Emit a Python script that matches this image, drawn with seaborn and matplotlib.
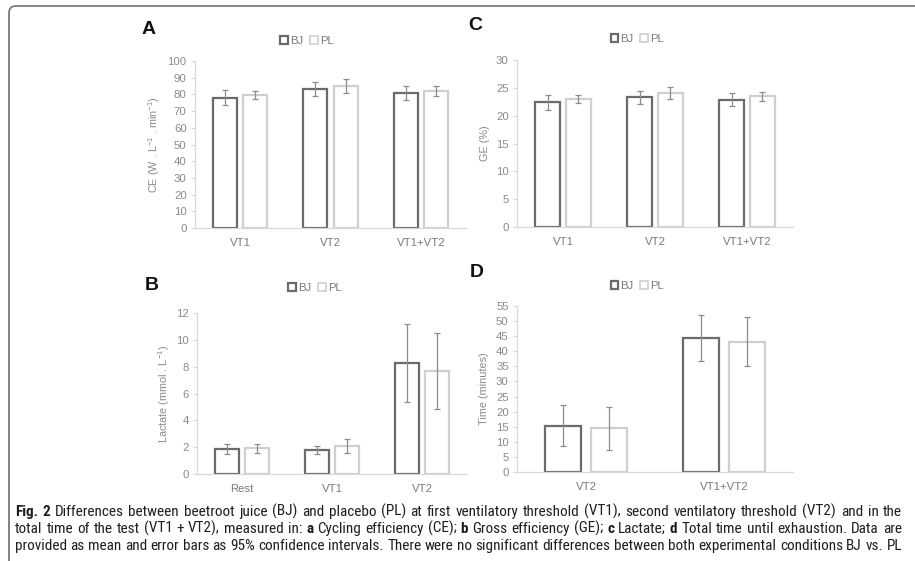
import numpy as np
import pandas as pd
import matplotlib
matplotlib.use("Agg")
import matplotlib.pyplot as plt
import seaborn as sns
from matplotlib.patches import Patch, FancyBboxPatch
from matplotlib.transforms import IdentityTransform
from matplotlib import font_manager as fm

# ---------------- data ----------------
conditions = ["BJ", "PL"]

ce_categories = ["VT1", "VT2", "VT1+VT2"]
ce_bj = [78.1, 83.3, 80.7]
ce_bj_err = [4.4, 4.2, 4.1]
ce_pl = [79.7, 85.3, 82.1]
ce_pl_err = [2.2, 4.2, 2.9]

ge_categories = ["VT1", "VT2", "VT1+VT2"]
ge_bj = [22.4, 23.3, 22.9]
ge_bj_err = [1.3, 1.15, 1.1]
ge_pl = [23.0, 24.1, 23.5]
ge_pl_err = [0.75, 1.1, 0.8]

lac_categories = ["Rest", "VT1", "VT2"]
lac_bj = [1.83, 1.76, 8.26]
lac_bj_err = [0.37, 0.30, 2.90]
lac_pl = [1.93, 2.08, 7.71]
lac_pl_err = [0.33, 0.55, 2.83]

time_categories = ["VT2", "VT1+VT2"]
time_bj = [15.4, 44.3]
time_bj_err = [6.7, 7.6]
time_pl = [14.5, 43.2]
time_pl_err = [7.2, 8.0]

caption_lines = [
    [("Fig. 2", True), ("Differences between beetroot juice (BJ) and placebo (PL) at first ventilatory threshold (VT1), second ventilatory threshold (VT2) and in the", False)],
    [("total time of the test (VT1 + VT2), measured in:", False), ("a", True), ("Cycling efficiency (CE);", False),
     ("b", True), ("Gross efficiency (GE);", False), ("c", True), ("Lactate;", False), ("d", True),
     ("Total time until exhaustion. Data are", False)],
    [("provided as mean and error bars as 95% confidence intervals. There were no significant differences between both experimental conditions BJ vs. PL", False)],
]

# ---------------- style ----------------
sns.set_style("white")
plt.rcParams["font.family"] = ["Liberation Sans", "DejaVu Sans"]

W, H = 915, 561
fig = plt.figure(figsize=(W / 100, H / 100), dpi=100)

BJ_EDGE = "#6b6b6b"
PL_EDGE = "#cfcfcf"
ERR_C = "#8c8c8c"
AX_C = "#d9d9d9"
TXT_C = "#8a8a8a"
FS = 8.2


def px_rect(left, right, top, bottom):
    return [left / W, 1 - bottom / H, (right - left) / W, (bottom - top) / H]


def panel(rect, cats, bj, bj_err, pl, pl_err, ymax, ystep, ylabel, letter, letter_px, leg_xy, labelpad):
    ax = fig.add_axes(rect)
    n = len(cats)
    df = pd.DataFrame({
        "cat": list(cats) * 2,
        "cond": ["BJ"] * n + ["PL"] * n,
        "val": list(bj) + list(pl),
    })
    sns.barplot(data=df, x="cat", y="val", hue="cond", order=cats, hue_order=conditions,
                palette={"BJ": "white", "PL": "white"}, saturation=1, width=0.667, gap=0.2,
                errorbar=None, legend=False, ax=ax, linewidth=1.5)
    bars = ax.patches[:2 * n]
    errs = list(bj_err) + list(pl_err)
    for i, p in enumerate(bars):
        p.set_facecolor("white")
        p.set_edgecolor(BJ_EDGE if i < n else PL_EDGE)
        p.set_linewidth(1.6)
        xc = p.get_x() + p.get_width() / 2
        ax.errorbar(xc, p.get_height(), yerr=errs[i], fmt="none", ecolor=ERR_C,
                    elinewidth=0.9, capsize=2.0, capthick=0.9, zorder=5)
    ax.set_ylim(0, ymax)
    ax.set_xlim(-0.5, n - 0.5)
    ax.set_yticks(np.arange(0, ymax + ystep / 2, ystep))
    ax.set_xticks(np.arange(n))
    ax.set_xticklabels(cats)
    ax.set_xticks(np.arange(n + 1) - 0.5, minor=True)
    ax.tick_params(axis="x", which="major", length=0, pad=7, labelsize=FS, labelcolor="#7a7a7a")
    ax.tick_params(axis="x", which="minor", length=3, color=AX_C, width=0.8, direction="out")
    ax.tick_params(axis="y", length=3, color=AX_C, width=0.8, labelsize=FS, labelcolor=TXT_C, pad=3, left=True)
    ax.set_xlabel("")
    ax.set_ylabel(ylabel, fontsize=7.8, color=TXT_C, labelpad=labelpad)
    for s in ["top", "right"]:
        ax.spines[s].set_visible(False)
    for s in ["left", "bottom"]:
        ax.spines[s].set_color(AX_C)
        ax.spines[s].set_linewidth(0.9)
    handles = [Patch(facecolor="white", edgecolor=BJ_EDGE, linewidth=1.6),
               Patch(facecolor="white", edgecolor=PL_EDGE, linewidth=1.2)]
    ax.legend(handles, conditions, loc="center", bbox_to_anchor=leg_xy, ncol=2, frameon=False,
              handlelength=0.7, handleheight=0.7, handletextpad=0.15, columnspacing=0.6,
              fontsize=FS, labelcolor="#7a7a7a", borderaxespad=0)
    fig.text(letter_px[0] / W, 1 - letter_px[1] / H, letter, fontsize=14, fontweight="bold",
             ha="left", va="center", color="#111111")
    return ax


panel(px_rect(195, 466, 61, 228), ce_categories, ce_bj, ce_bj_err, ce_pl, ce_pl_err, 100, 10,
      r"CE (W . L$^{\mathregular{-1}}$ . min$^{\mathregular{-1}}$)", "A", (142, 29), (0.413, 1.12), 4)
panel(px_rect(517, 793, 60, 227), ge_categories, ge_bj, ge_bj_err, ge_pl, ge_pl_err, 30, 5,
      "GE (%)", "C", (468, 25), (0.435, 1.126), 4)
panel(px_rect(197, 467, 313, 474), lac_categories, lac_bj, lac_bj_err, lac_pl, lac_pl_err, 12, 2,
      r"Lactate (mmol . L$^{\mathregular{-1}}$)", "B", (145, 285), (0.437, 1.155), 2.5)
panel(px_rect(517, 793, 306, 472), time_categories, time_bj, time_bj_err, time_pl, time_pl_err, 55, 5,
      "Time (minutes)", "D", (470, 273), (0.435, 1.12), 5)

# ---------------- frame ----------------
frame = FancyBboxPatch((9, -40), 960, 40 + (H - 6), boxstyle="round,pad=0,rounding_size=7",
                       transform=IdentityTransform(), facecolor="none", edgecolor="#7a7a7a",
                       linewidth=1.3)
fig.patches.append(frame)

# ---------------- caption font (prefer a narrow face) ----------------
def find_faces():
    prefs = ["liberationsansnarrow", "opensanscondensed", "robotocondensed", "dejavusanscondensed"]
    faces = {}
    for f in fm.fontManager.ttflist:
        key = f.fname.lower().replace("-", "").replace("_", "").replace(" ", "")
        base = key.split("/")[-1]
        for p in prefs:
            if base.startswith(p):
                is_bold = "bold" in base
                is_ital = "italic" in base or "oblique" in base
                if is_ital:
                    continue
                if any(k in base for k in ("light", "medium", "semi", "extra", "thin", "black")):
                    continue
                faces.setdefault(p, {})
                faces[p]["bold" if is_bold else "regular"] = f.fname
    for p in prefs:
        if p in faces and "regular" in faces[p]:
            reg = fm.FontProperties(fname=faces[p]["regular"])
            bld = fm.FontProperties(fname=faces[p].get("bold", faces[p]["regular"]))
            return reg, bld
    return (fm.FontProperties(family="Liberation Sans"),
            fm.FontProperties(family="Liberation Sans", weight="bold"))


reg_fp, bold_fp = find_faces()
renderer = fig.canvas.get_renderer()
x_left, x_right = 15, 902
baselines = [516, 533, 550]

line_words = []
for segs in caption_lines:
    words = []
    for txt, bold in segs:
        for w in txt.split(" "):
            if w:
                words.append((w, bold))
    line_words.append(words)


def fp_for(bold, size):
    fp = (bold_fp if bold else reg_fp).copy()
    fp.set_size(size)
    return fp


def measure(word, bold, size):
    t = fig.text(0, 0, word, fontproperties=fp_for(bold, size))
    w = t.get_window_extent(renderer).width
    t.remove()
    return w


ref = 10.0
space_w = measure("a a", False, ref) - measure("aa", False, ref)
natural = []
for words in line_words:
    tot = sum(measure(w, b, ref) for w, b in words) + space_w * (len(words) - 1)
    natural.append(tot)
size = min(ref * (x_right - x_left) / max(natural) * 0.995, 11.5)

for words, base in zip(line_words, baselines):
    widths = [measure(w, b, size) for w, b in words]
    gap = ((x_right - x_left) - sum(widths)) / (len(words) - 1)
    x = x_left
    for (w, b), wd in zip(words, widths):
        fig.text(x / W, 1 - base / H, w, fontproperties=fp_for(b, size),
                 ha="left", va="baseline", color="#1e1e1e")
        x += wd + gap

fig.savefig("out.png", dpi=100)
